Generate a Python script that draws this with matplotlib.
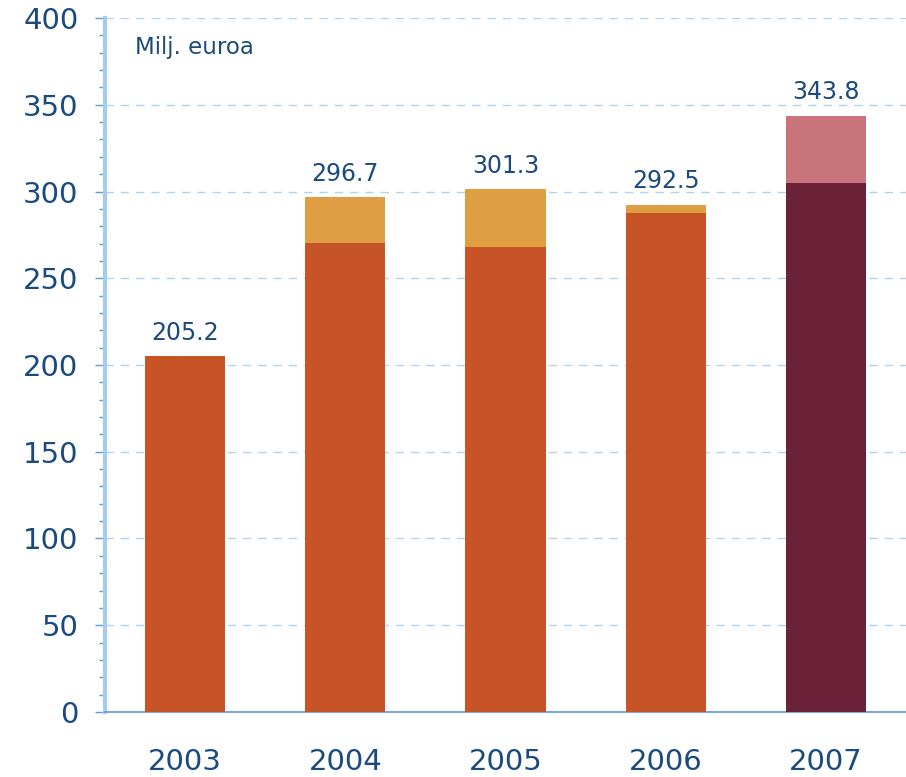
import matplotlib.pyplot as plt
from matplotlib.ticker import MultipleLocator

# data
years = ['2003', '2004', '2005', '2006', '2007']
base = [205.2, 270.3, 268.0, 287.6, 304.9]
totals = [205.2, 296.7, 301.3, 292.5, 343.8]
top = [t - b for t, b in zip(totals, base)]
labels = ['205.2', '296.7', '301.3', '292.5', '343.8']

BASE_COLORS = ['#C75426', '#C75426', '#C75426', '#C75426', '#6B2238']
TOP_COLORS = ['#E09E43', '#E09E43', '#E09E43', '#E09E43', '#C9737A']
TEXT = '#1A4A80'

plt.rcParams['font.family'] = ['DejaVu Sans']

fig = plt.figure(figsize=(9.06, 7.77), dpi=100)
ax = fig.add_axes([0.1159, 0.0837, 0.8841, 0.8931])

x = range(len(years))
ax.bar(x, base, width=0.5, color=BASE_COLORS, zorder=3)
ax.bar(x, top, width=0.5, bottom=base, color=TOP_COLORS, zorder=3)

for i, (t, lab) in enumerate(zip(totals, labels)):
    ax.annotate(lab, (i, t), xytext=(0, 8), textcoords='offset points',
                ha='center', va='bottom', fontsize=17, color=TEXT)

ax.set_xlim(-0.5, 4.5)
ax.set_ylim(0, 400)
ax.yaxis.set_major_locator(MultipleLocator(50))
ax.yaxis.set_minor_locator(MultipleLocator(10))
ax.set_xticks(list(x))
ax.set_xticklabels(years)

ax.grid(axis='y', which='major', color='#AED2F0', linestyle=(0, (6, 5)), linewidth=1, zorder=0)

for s in ['top', 'right']:
    ax.spines[s].set_visible(False)
ax.spines['left'].set_color('#A9CBEB')
ax.spines['left'].set_linewidth(3)
ax.spines['bottom'].set_color('#5B9BD5')
ax.spines['bottom'].set_linewidth(1.2)

ax.tick_params(axis='y', which='major', length=7, width=1, color='#5B9BD5',
               labelsize=21, labelcolor=TEXT, pad=12)
ax.tick_params(axis='y', which='minor', length=4, width=1, color='#5B9BD5')
ax.tick_params(axis='x', length=0, labelsize=21, labelcolor=TEXT, pad=26)

ax.text(0.0375, 0.958, 'Milj. euroa', transform=ax.transAxes, fontsize=16.5,
        color=TEXT, ha='left', va='center')

fig.savefig('out.png', dpi=100)
